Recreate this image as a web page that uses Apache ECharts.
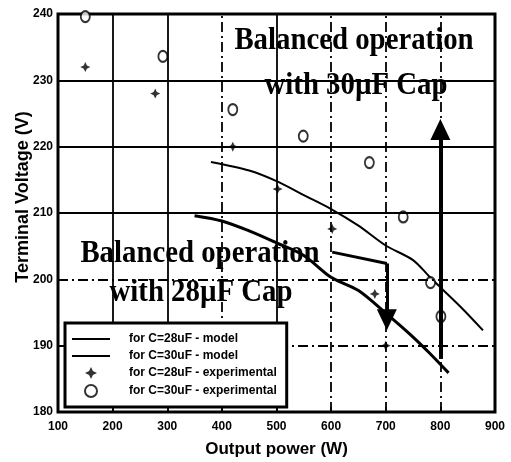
<!DOCTYPE html>
<html>
<head>
<meta charset="utf-8">
<title>Terminal voltage vs output power</title>
<script src="https://cdn.jsdelivr.net/npm/echarts@6/dist/echarts.min.js"></script>
<style>
  html, body { margin: 0; padding: 0; background: #fff; }
  #main { width: 511px; height: 462px; }
</style>
</head>
<body>
<div id="main"></div>
<script>
// axis ticks
var xTicks = [100, 200, 300, 400, 500, 600, 700, 800, 900];
var yTicks = [180, 190, 200, 210, 220, 230, 240];

// model curves
var model28Power = [350, 400, 450, 500, 550, 600, 650, 700, 750, 780, 815];
var model28Volt = [209.6, 208.8, 207.3, 205.5, 203.6, 200.3, 198.3, 194.9, 191.3, 188.9, 185.9];
var model30Power = [380, 450, 500, 550, 600, 650, 700, 750, 780, 805, 840, 878];
var model30Volt = [217.7, 216.4, 214.8, 212.7, 210.6, 208.1, 205.1, 202.9, 200.4, 198.4, 195.6, 192.3];

// experimental points
var exp28Power = [150, 278, 420, 502, 602, 680, 700];
var exp28Volt = [232, 228, 220, 213.6, 207.6, 197.8, 190];
var exp30Power = [150, 292, 420, 549, 670, 732, 782, 801];
var exp30Volt = [239.6, 233.6, 225.6, 221.6, 217.6, 209.4, 199.5, 194.4];

// grid lines drawn solid, the others are dash-dot
var solidX = [200, 300, 500];
var solidY = [210, 220, 230];

// annotation arrows, in data units (W, V)
var arrow28Path = [[602, 204.1], [702, 202.4], [702, 193.9]];
var arrow30Path = [[800, 188], [800, 222.6]];

var seriesNames = ['for C=28uF - model', 'for C=30uF - model', 'for C=28uF - experimental', 'for C=30uF - experimental'];

function zip(xs, ys) {
    return xs.map(function (x, i) { return [x, ys[i]]; });
}

var starSymbol = 'path://M5,0 L6.6,3.4 L10,5 L6.6,6.6 L5,10 L3.4,6.6 L0,5 L3.4,3.4 Z';
// plain line for the model entries of the legend
var lineIcon = 'path://M0,0 H38 V2 H0 Z';

function gridLines() {
    var solid = { color: '#000', width: 1.8, type: 'solid' };
    var dash = { color: '#000', width: 1.8, type: [10, 4, 2, 4] };
    var lines = [];
    var x0 = xTicks[0], x1 = xTicks[xTicks.length - 1];
    var y0 = yTicks[0], y1 = yTicks[yTicks.length - 1];
    xTicks.slice(1, -1).forEach(function (x) {
        lines.push([
            { coord: [x, y0], lineStyle: solidX.indexOf(x) >= 0 ? solid : dash },
            { coord: [x, y1] }
        ]);
    });
    yTicks.slice(1, -1).forEach(function (y) {
        lines.push([
            { coord: [x0, y], lineStyle: solidY.indexOf(y) >= 0 ? solid : dash },
            { coord: [x1, y] }
        ]);
    });
    return lines;
}

function arrowLines(path, width) {
    var out = [];
    for (var i = 0; i < path.length - 1; i++) {
        var last = i === path.length - 2;
        out.push([
            { coord: path[i], symbol: 'none', lineStyle: { color: '#000', width: width, type: 'solid' } },
            { coord: path[i + 1], symbol: last ? 'triangle' : 'none', symbolSize: [20, 21] }
        ]);
    }
    return out;
}

var chart = echarts.init(document.getElementById('main'), null, { renderer: 'canvas' });

var tickFont = { color: '#000', fontFamily: 'Liberation Sans', fontWeight: 'bold', fontSize: 12 };
var textSerif = { font: 'bold 32px "Liberation Serif"', fill: '#000', align: 'center', verticalAlign: 'middle' };

function label(text, x, y) {
    return { type: 'text', x: x, y: y, scaleX: 0.9, z: 10, style: Object.assign({ text: text }, textSerif) };
}

var option = {
    animation: false,
    backgroundColor: '#fff',
    grid: {
        left: 58, right: 16, top: 14, bottom: 50,
        outerBoundsMode: 'none',
        show: true, borderColor: '#000', borderWidth: 3
    },
    legend: {
        orient: 'vertical',
        left: 65, top: 323, z: 20,
        data: [
            { name: seriesNames[0], icon: lineIcon },
            { name: seriesNames[1], icon: lineIcon },
            { name: seriesNames[2] },
            { name: seriesNames[3] }
        ],
        itemWidth: 38, itemHeight: 12, itemGap: 5,
        padding: [10, 10, 9, 7],
        backgroundColor: '#fff',
        borderColor: '#000', borderWidth: 3,
        textStyle: { color: '#000', fontFamily: 'Liberation Sans', fontWeight: 'bold', fontSize: 12, padding: [0, 0, 0, 14] }
    },
    xAxis: {
        type: 'value', min: 100, max: 900, interval: 100,
        name: 'Output power (W)', nameLocation: 'middle', nameGap: 29, nameMoveOverlap: false,
        nameTextStyle: { color: '#000', fontFamily: 'Liberation Sans', fontWeight: 'bold', fontSize: 17 },
        axisLine: { show: false },
        axisTick: { inside: true, length: 5, lineStyle: { color: '#000', width: 1.5 } },
        axisLabel: Object.assign({ margin: 9 }, tickFont),
        splitLine: { show: false }
    },
    yAxis: {
        type: 'value', min: 180, max: 240, interval: 10,
        name: 'Terminal Voltage (V)', nameLocation: 'middle', nameGap: 26, nameMoveOverlap: false,
        nameTextStyle: { color: '#000', fontFamily: 'Liberation Sans', fontWeight: 'bold', fontSize: 18, padding: [0, 0, 0, 32] },
        axisLine: { show: false },
        axisTick: { inside: true, length: 5, lineStyle: { color: '#000', width: 1.5 } },
        axisLabel: Object.assign({ margin: 5 }, tickFont),
        splitLine: { show: false }
    },
    graphic: [
        label('Balanced operation', 354, 41),
        label('with 30\u00b5F Cap', 356, 86),
        label('Balanced operation', 200, 254),
        label('with 28\u00b5F Cap', 201, 293)
    ],
    series: [
        {
            name: 'gridlines', type: 'line', data: [], z: 1, silent: true,
            markLine: { silent: true, symbol: 'none', label: { show: false }, data: gridLines() }
        },
        {
            name: seriesNames[0], type: 'line', data: zip(model28Power, model28Volt),
            symbol: 'none', smooth: 0.3, z: 3,
            lineStyle: { color: '#000', width: 3 }, itemStyle: { color: '#000' }
        },
        {
            name: seriesNames[1], type: 'line', data: zip(model30Power, model30Volt),
            symbol: 'none', smooth: 0.3, z: 3,
            lineStyle: { color: '#000', width: 2 }, itemStyle: { color: '#000' }
        },
        {
            name: seriesNames[2], type: 'scatter', data: zip(exp28Power, exp28Volt),
            symbol: starSymbol, symbolSize: 10, z: 4,
            itemStyle: { color: '#000' }
        },
        {
            name: seriesNames[3], type: 'scatter', data: zip(exp30Power, exp30Volt),
            symbol: 'emptyCircle', symbolSize: [9, 11], z: 4,
            itemStyle: { color: '#000', borderColor: '#000', borderWidth: 2.5 }
        },
        {
            name: 'arrows', type: 'line', data: [], z: 5, silent: true,
            markLine: {
                silent: true, label: { show: false },
                itemStyle: { color: '#000' },
                data: arrowLines(arrow28Path, 3).concat(arrowLines(arrow30Path, 4))
            }
        }
    ]
};

chart.setOption(option);
</script>
</body>
</html>
